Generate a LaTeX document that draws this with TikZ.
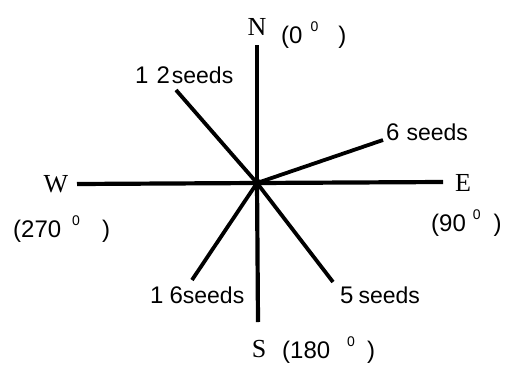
\documentclass[tikz,border=0pt]{standalone}
\usepackage{fontspec}
\setmainfont{Liberation Sans}
\newfontfamily\dirfont{Liberation Serif}
\newcommand\degsup{\raisebox{0.5em}{\fontsize{14}{14}\selectfont 0}}
\newcommand\sds{{\fontsize{23}{23}\selectfont seeds}}
\begin{document}
\begin{tikzpicture}[x=1pt,y=-1pt,
  axisline/.style={line width=4.2pt},
  rayline/.style={line width=3.8pt},
  dirlabel/.style={font=\dirfont\fontsize{26}{26}\selectfont, inner sep=0pt},
  deglabel/.style={font=\fontsize{24}{24}\selectfont, inner sep=0pt},
  cntlabel/.style={font=\fontsize{24}{24}\selectfont, inner sep=0pt}]
\useasboundingbox (0,0) rectangle (510,364);
% centre and line ends
\coordinate (c) at (257,183);
\coordinate (nend) at (257,45);
\coordinate (send) at (258,322);
\coordinate (wend) at (77,184);
\coordinate (eend) at (443,182);
\coordinate (r12) at (176,90);
\coordinate (r6) at (383,140);
\coordinate (r16) at (192,280);
\coordinate (r5) at (333,282);
% lines
\draw[axisline] (c) -- (nend);
\draw[axisline] (c) -- (send);
\draw[axisline] (c) -- (wend);
\draw[axisline] (c) -- (eend);
\draw[rayline] (c) -- (r12);
\draw[rayline] (c) -- (r6);
\draw[rayline] (c) -- (r16);
\draw[rayline] (c) -- (r5);
\fill (c) circle (4.5);
% direction labels
\node[dirlabel] (N) at (257,27) {N};
\node[dirlabel] (S) at (259,349) {S};
\node[dirlabel] (W) at (56,184) {W};
\node[dirlabel] (E) at (463,183) {E};
% degree labels
\node[deglabel, anchor=west] (Nd) at (281,35) {(0\hspace{8pt}\degsup\hspace{20pt})};
\node[deglabel, anchor=west] (Wd) at (13,229) {(270\hspace{11pt}\degsup\hspace{22pt})};
\node[deglabel, anchor=west] (Ed) at (431,223) {(90\hspace{7pt}\degsup\hspace{13pt})};
\node[deglabel, anchor=west] (Sd) at (282,350) {(180\hspace{17pt}\degsup\hspace{12pt})};
% seed counts
\node[cntlabel, anchor=west] (l12) at (135,75) {1\hspace{8pt}2\hspace{2pt}\sds};
\node[cntlabel, anchor=west] (l6) at (386,132) {6\hspace{7pt}\sds};
\node[cntlabel, anchor=west] (l16) at (150,295) {1\hspace{6pt}6\sds};
\node[cntlabel, anchor=west] (l5) at (340,295) {5\hspace{5pt}\sds};
\end{tikzpicture}
\end{document}
